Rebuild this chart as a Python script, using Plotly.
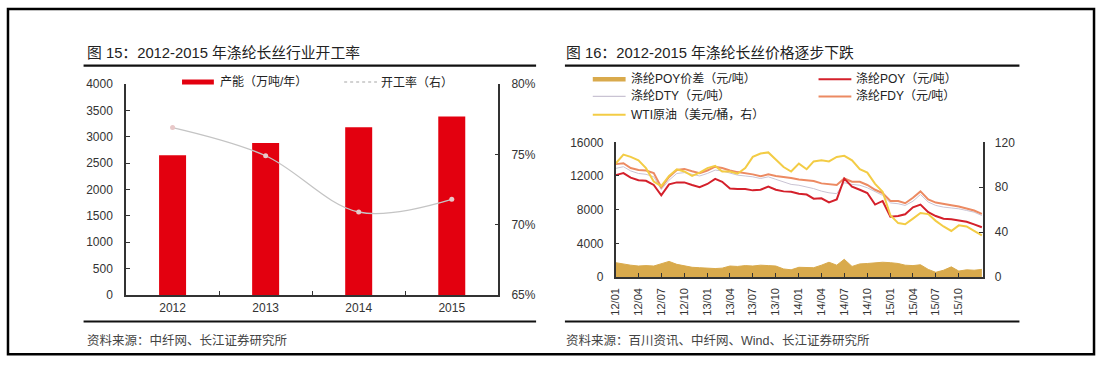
import plotly.graph_objects as go
import pandas as pd

# ---------------- data: left chart ----------------
years = ["2012", "2013", "2014", "2015"]
capacity = [2650, 2880, 3180, 3385]            # 产能（万吨/年）
utilization = [0.769, 0.749, 0.709, 0.718]     # 开工率（右）

# ---------------- data: right chart (monthly, 2012/01 - 2016/01) ----------------
months = pd.date_range("2012-01-01", "2016-01-01", freq="MS")
tick_dates = pd.date_range("2012-01-01", "2015-10-01", freq="3MS")
poy_spread = [1700, 1500, 1400, 1300, 1350, 1300, 1600, 1850, 1500, 1300, 1150, 1100,
              1050, 1000, 1050, 1300, 1250, 1350, 1300, 1400, 1350, 1300, 950, 850,
              1150, 1150, 1100, 1400, 1750, 1400, 2100, 1250, 1550, 1600, 1650, 1750,
              1700, 1600, 1400, 1350, 1450, 900, 550, 800, 1200, 700, 850, 800, 900]
poy = [12100, 12340, 11810, 11500, 11430, 10930, 9700, 11000, 11240, 11240, 10930, 10670,
       11050, 11650, 11310, 10500, 10440, 10440, 10290, 10360, 10750, 10360, 10170, 10130,
       9900, 9790, 9300, 9350, 8850, 9220, 11700, 10740, 10360, 9980, 8600, 9030,
       7150, 7240, 7450, 8270, 8600, 7700, 7240, 6930, 6860, 6740, 6550, 6250, 5900]
dty = [12900, 13100, 12600, 12300, 12200, 11900, 10400, 11500, 12300, 12400, 12200, 12000,
       12300, 12700, 12600, 12300, 12100, 12000, 11900, 11700, 11900, 11600, 11300, 11000,
       10900, 10700, 10500, 10200, 10000, 9900, 11200, 11000, 10900, 10600, 10100, 9700,
       8800, 8700, 8500, 9000, 9800, 8900, 8500, 8300, 8200, 8100, 7900, 7700, 7300]
fdy = [13410, 13520, 12950, 12720, 12650, 12340, 10650, 11890, 12720, 12840, 12570, 12340,
       12650, 13100, 12950, 12650, 12460, 12340, 12190, 11960, 12190, 12000, 11890, 11770,
       11580, 11500, 11390, 11120, 11010, 10930, 11700, 11310, 11310, 10930, 10360, 9980,
       9030, 9030, 8760, 9410, 10170, 9220, 8840, 8650, 8530, 8380, 8150, 7890, 7500]
wti = [101, 109, 107, 104, 97, 85, 81, 90, 96, 94, 90, 93,
       97, 99, 94, 94, 92, 97, 107, 110, 111, 105, 98, 94,
       101, 96, 103, 104, 103, 107, 108, 104, 96, 93, 83, 76,
       55, 48, 47, 52, 57, 56, 50, 45, 41, 46, 45, 41, 37]

W, H = 1098, 366
def px(x):
    return x / W
def py(y):
    return 1 - y / H

FONT = "Liberation Sans, Arial, Noto Sans CJK SC, sans-serif"
AX = "#333333"

fig = go.Figure()

# left chart
fig.add_trace(go.Bar(x=years, y=capacity, marker=dict(color="#E3000F", line=dict(width=0)),
                     width=0.29, xaxis="x", yaxis="y", showlegend=False))
fig.add_trace(go.Scatter(x=years, y=utilization, mode="lines+markers",
                         line=dict(color="#C4C4C4", width=1.3, shape="spline", smoothing=1.0),
                         marker=dict(color="#E8C8C8", size=5),
                         xaxis="x", yaxis="y2", showlegend=False))

# right chart
fig.add_trace(go.Scatter(x=months, y=poy_spread, mode="lines", fill="tozeroy",
                         line=dict(color="#D9AA4C", width=1), fillcolor="#D9AA4C",
                         xaxis="x3", yaxis="y3", showlegend=False))
fig.add_trace(go.Scatter(x=months, y=dty, mode="lines", line=dict(color="#C9C3D3", width=1),
                         xaxis="x3", yaxis="y3", showlegend=False))
fig.add_trace(go.Scatter(x=months, y=fdy, mode="lines", line=dict(color="#EC8A62", width=2),
                         xaxis="x3", yaxis="y3", showlegend=False))
fig.add_trace(go.Scatter(x=months, y=wti, mode="lines", line=dict(color="#F3CC45", width=2),
                         xaxis="x3", yaxis="y4", showlegend=False))
fig.add_trace(go.Scatter(x=months, y=poy, mode="lines", line=dict(color="#D4202B", width=2),
                         xaxis="x3", yaxis="y3", showlegend=False))

axis_common = dict(showline=True, linecolor=AX, linewidth=1.5, ticks="inside", ticklen=4,
                   tickcolor=AX, showgrid=False, zeroline=False,
                   tickfont=dict(family=FONT, size=12, color=AX))

fig.update_layout(
    width=W, height=H, margin=dict(l=0, r=0, t=0, b=0),
    paper_bgcolor="white", plot_bgcolor="white", showlegend=False,
    xaxis=dict(axis_common, domain=[px(120.7), px(495)], type="category",
               range=[-0.5, 3.5], tickson="boundaries", anchor="y", ticklabelstandoff=1),
    yaxis=dict(axis_common, domain=[py(299.5), py(80)], range=[0, 4000], dtick=500,
               anchor="x", ticklabelstandoff=9),
    yaxis2=dict(axis_common, domain=[py(299.5), py(80)], range=[0.65, 0.80], dtick=0.05,
                tickformat=".0%", overlaying="y", side="right", anchor="x",
                ticklabelstandoff=9),
    xaxis3=dict(axis_common, domain=[px(613), px(982)], type="date",
                range=["2012-01-01", "2016-01-04"], tickmode="array",
                tickvals=list(tick_dates), ticktext=[d.strftime("%y/%m") for d in tick_dates],
                tickangle=-90, anchor="y3", ticklabelstandoff=5,
                tickfont=dict(family=FONT, size=11, color=AX)),
    yaxis3=dict(axis_common, domain=[py(280.7), py(140.7)], range=[0, 16000], dtick=4000,
                tickformat="d", anchor="x3", ticklabelstandoff=8),
    yaxis4=dict(axis_common, domain=[py(280.7), py(140.7)], range=[0, 120], dtick=40,
                overlaying="y3", side="right", anchor="x3", ticklabelstandoff=8),
)

shapes = []
# outer frame
shapes.append(dict(type="rect", xref="paper", yref="paper", x0=px(2), x1=px(1094),
                   y0=py(361), y1=py(2), line=dict(color="black", width=2.5)))
# title and bottom rules
for (x0, x1) in [(78, 533), (562, 1019)]:
    for yy in (61, 327):
        shapes.append(dict(type="line", xref="paper", yref="paper", x0=px(x0), x1=px(x1),
                           y0=py(yy), y1=py(yy), line=dict(color="#111111", width=2.2)))

annotations = []
def text(x, y, s, size=12, color="#222222", xanchor="left"):
    annotations.append(dict(x=px(x), y=py(y), xref="paper", yref="paper", text=s,
                            showarrow=False, xanchor=xanchor, yanchor="middle",
                            font=dict(family=FONT, size=size, color=color)))

text(79, 48, "图 15：2012-2015 年涤纶长丝行业开工率", size=14.8)
text(561, 48, "图 16：2012-2015 年涤纶长丝价格逐步下跌", size=14.8)
text(79, 347, "资料来源：中纤网、长江证券研究所", size=12.5, color="#444444")
text(561, 347, "资料来源：百川资讯、中纤网、Wind、长江证券研究所", size=12.5, color="#444444")

# left legend
shapes.append(dict(type="line", xref="paper", yref="paper", x0=px(177), x1=px(209),
                   y0=py(78), y1=py(78), line=dict(color="#E3000F", width=5)))
text(213, 78, "产能（万吨/年）")
shapes.append(dict(type="line", xref="paper", yref="paper", x0=px(340), x1=px(373),
                   y0=py(78), y1=py(78), line=dict(color="#C4C4C4", width=1.3, dash="dot")))
text(375, 78, "开工率（右）")

# right legend
leg = [
    (590, 75, "#D9AA4C", 4.5, "涤纶POY价差（元/吨）"),
    (817, 75, "#D4202B", 2, "涤纶POY（元/吨）"),
    (590, 93, "#C9C3D3", 1.2, "涤纶DTY（元/吨）"),
    (817, 93, "#EC8A62", 2, "涤纶FDY（元/吨）"),
    (590, 112, "#F3CC45", 2, "WTI原油（美元/桶，右）"),
]
for (x0, yy, c, w, s) in leg:
    shapes.append(dict(type="line", xref="paper", yref="paper", x0=px(x0), x1=px(x0 + 33),
                       y0=py(yy), y1=py(yy), line=dict(color=c, width=w)))
    text(x0 + 36, yy, s)

fig.update_layout(shapes=shapes, annotations=annotations)
fig.write_html("out.html", config={"displayModeBar": False},
               post_script="document.documentElement.style.margin='0';"
                           "document.body.style.margin='0';"
                           "document.body.style.overflow='hidden';")
